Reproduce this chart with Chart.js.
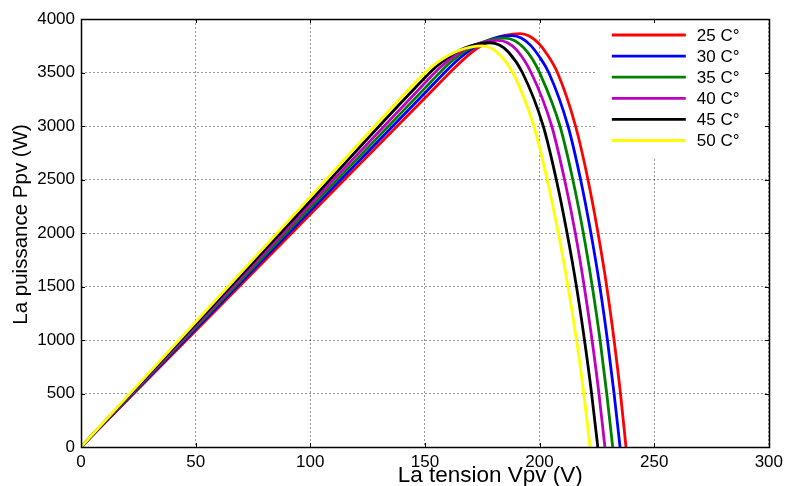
<!DOCTYPE html>
<html>
<head>
<meta charset="utf-8">
<title>Ppv(Vpv) – influence de la température</title>
<script src="https://cdn.jsdelivr.net/npm/chart.js@4/dist/chart.umd.min.js"></script>
<style>
  html, body { margin: 0; padding: 0; background: #ffffff; }
  #wrap { width: 788px; height: 486px; }
</style>
</head>
<body>
<div id="wrap"><canvas id="pv"></canvas></div>
<script>
// Courbes P(V) du générateur photovoltaïque pour six températures
const labels = ['25 C°', '30 C°', '35 C°', '40 C°', '45 C°', '50 C°'];
const colors = ['#ff0000', '#0000ff', '#008000', '#bf00bf', '#000000', '#ffff00'];

// Tension (V) et puissance (W) relevées sur chaque courbe
const v25 = [0, 50, 100, 150, 163.9, 170, 175, 180, 185, 191.5, 195.5, 199.5, 203.5, 207.8, 215.7, 221.1, 225.5, 229.3, 232.5, 235.3, 237.7];
const p25 = [0, 1087, 2174, 3261, 3563, 3681, 3756, 3811, 3846, 3864, 3842, 3775, 3664, 3500, 3000, 2500, 2000, 1500, 1000, 500, 0];

const v30 = [0, 50, 100, 150, 160.8, 165, 170, 175, 180, 184, 188, 192, 196, 200, 204.0, 212.4, 217.9, 222.4, 226.3, 229.6, 232.5, 235.1];
const p30 = [0, 1103, 2205, 3308, 3546, 3631, 3715, 3777, 3820, 3839, 3845, 3823, 3756, 3645, 3500, 3000, 2500, 2000, 1500, 1000, 500, 0];

const v35 = [0, 50, 100, 150, 156.8, 160, 165, 170, 175, 180, 185, 189, 193, 197, 200.0, 208.9, 214.5, 219.1, 223.0, 226.4, 229.3, 231.9];
const p35 = [0, 1118, 2236, 3354, 3506, 3574, 3663, 3732, 3782, 3811, 3822, 3800, 3733, 3622, 3500, 3000, 2500, 2000, 1500, 1000, 500, 0];

const v40 = [0, 50, 100, 150, 153, 157, 162, 167, 172, 177, 182, 186, 190, 196.3, 205.3, 210.9, 215.6, 219.5, 222.9, 225.9, 228.5];
const p40 = [0, 1134, 2268, 3402, 3470, 3554, 3642, 3711, 3760, 3789, 3800, 3778, 3711, 3500, 3000, 2500, 2000, 1500, 1000, 500, 0];

const v45 = [0, 50, 100, 149.9, 155, 160, 165, 170, 174, 178.5, 182.5, 186.5, 192.5, 201.6, 207.3, 212.0, 216.1, 219.6, 222.7, 225.4];
const p45 = [0, 1151, 2301, 3449, 3556, 3640, 3705, 3749, 3770, 3778, 3756, 3689, 3500, 3000, 2500, 2000, 1500, 1000, 500, 0];

const v50 = [0, 50, 100, 145.8, 150, 155, 160, 165, 170, 175, 179, 183, 188.3, 197.5, 203.3, 208.2, 212.4, 216.1, 219.3, 222.0];
const p50 = [0, 1168, 2336, 3406, 3497, 3587, 3657, 3707, 3737, 3748, 3726, 3659, 3500, 3000, 2500, 2000, 1500, 1000, 500, 0];

const voltages = [v25, v30, v35, v40, v45, v50];
const powers = [p25, p30, p35, p40, p45, p50];

// Graduations des axes
const xTicks = [0, 50, 100, 150, 200, 250, 300];
const yTicks = [0, 500, 1000, 1500, 2000, 2500, 3000, 3500, 4000];

const xTitle = 'La tension Vpv (V)';
const yTitle = 'La puissance Ppv (W)';

const FONT = '"Liberation Sans", Arial, Helvetica, sans-serif';

const datasets = labels.map((lab, i) => ({
  label: lab,
  data: voltages[i].map((v, k) => ({ x: v, y: powers[i][k] })),
  borderColor: colors[i],
  backgroundColor: colors[i],
  borderWidth: 2.8,
  pointRadius: 0,
  fill: false,
  cubicInterpolationMode: 'monotone',
  order: labels.length - i   // la dernière courbe passe au-dessus
}));

// Cadre, graduations intérieures, titres d'axes et légende
const decor = {
  id: 'decor',
  afterDatasetsDraw(chart) {
    const { ctx, chartArea: a } = chart;
    // légende
    const box = { x: a.right - 172, y: a.top, w: 172, h: 137 };
    ctx.save();
    ctx.fillStyle = '#ffffff';
    ctx.fillRect(box.x, box.y + 1, box.w - 1, box.h);
    ctx.font = '17px ' + FONT;
    ctx.textBaseline = 'middle';
    ctx.textAlign = 'left';
    chart.data.datasets.forEach((ds, i) => {
      const yy = box.y + 16 + i * 21.1;
      ctx.strokeStyle = ds.borderColor;
      ctx.lineWidth = 2.8;
      ctx.beginPath();
      ctx.moveTo(box.x + 15, yy);
      ctx.lineTo(box.x + 89, yy);
      ctx.stroke();
      ctx.fillStyle = '#000000';
      ctx.fillText(ds.label, box.x + 100, yy + 1);
    });
    ctx.restore();
  },
  afterDraw(chart) {
    const { ctx, chartArea: a, scales } = chart;
    ctx.save();
    ctx.setLineDash([]);
    ctx.strokeStyle = '#000000';
    ctx.lineWidth = 1;
    // graduations vers l'intérieur sur les quatre côtés
    const t = 4;
    ctx.beginPath();
    scales.x.ticks.forEach(tk => {
      const px = Math.round(scales.x.getPixelForValue(tk.value)) + 0.5;
      ctx.moveTo(px, a.bottom); ctx.lineTo(px, a.bottom - t);
      ctx.moveTo(px, a.top); ctx.lineTo(px, a.top + t);
    });
    scales.y.ticks.forEach(tk => {
      const py = Math.round(scales.y.getPixelForValue(tk.value)) + 0.5;
      ctx.moveTo(a.left, py); ctx.lineTo(a.left + t, py);
      ctx.moveTo(a.right, py); ctx.lineTo(a.right - t, py);
    });
    ctx.stroke();
    // cadre
    ctx.lineWidth = 1.5;
    ctx.strokeRect(Math.round(a.left) + 0.5, Math.round(a.top) + 0.5,
                   Math.round(a.right - a.left), Math.round(a.bottom - a.top));
    // titres d'axes
    ctx.fillStyle = '#000000';
    ctx.textAlign = 'center';
    ctx.textBaseline = 'middle';
    ctx.font = '22.5px ' + FONT;
    ctx.fillText(xTitle, a.left + (a.right - a.left) * 0.595, a.bottom + 29);
    ctx.font = '20.5px ' + FONT;
    ctx.translate(21, a.top + (a.bottom - a.top) * 0.48);
    ctx.rotate(-Math.PI / 2);
    ctx.fillText(yTitle, 0, 0);
    ctx.restore();
  }
};

new Chart(document.getElementById('pv'), {
  type: 'line',
  data: { datasets },
  options: {
    responsive: true,
    maintainAspectRatio: false,
    animation: false,
    devicePixelRatio: 1,
    layout: { padding: { top: 19, right: 17, left: 0, bottom: 0 } },
    plugins: {
      legend: { display: false },
      tooltip: { enabled: false }
    },
    scales: {
      x: {
        type: 'linear',
        min: xTicks[0],
        max: xTicks[xTicks.length - 1],
        afterBuildTicks: s => { s.ticks = xTicks.map(v => ({ value: v })); },
        afterFit: s => { s.height = 39; },
        grid: { color: 'rgba(0,0,0,0.42)', lineWidth: 1, drawTicks: false },
        border: { display: false, dash: [2, 2] },
        ticks: {
          padding: 5,
          maxRotation: 0,
          color: '#000000',
          font: { family: FONT, size: 17 },
          callback: v => String(v)
        }
      },
      y: {
        type: 'linear',
        min: yTicks[0],
        max: yTicks[yTicks.length - 1],
        afterBuildTicks: s => { s.ticks = yTicks.map(v => ({ value: v })); },
        afterFit: s => { s.width = 81; },
        grid: { color: 'rgba(0,0,0,0.42)', lineWidth: 1, drawTicks: false },
        border: { display: false, dash: [2, 2] },
        ticks: {
          padding: 6,
          color: '#000000',
          font: { family: FONT, size: 17 },
          callback: v => String(v)
        }
      }
    }
  },
  plugins: [decor]
});
</script>
</body>
</html>
